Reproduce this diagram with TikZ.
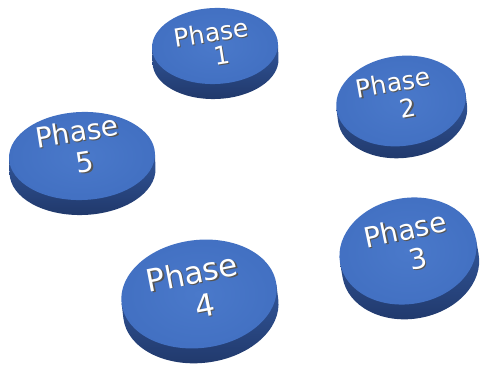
\documentclass[tikz,border=0pt]{standalone}
\usepackage{fontspec}
\setmainfont{DejaVu Sans}
\definecolor{topblue}{RGB}{66,112,194}
\definecolor{toplight}{RGB}{74,121,202}
\definecolor{sideup}{RGB}{50,86,154}
\definecolor{sidedown}{RGB}{32,56,106}
\definecolor{txtshadow}{RGB}{85,85,85}
\tikzset{
  disctop/.style={inner color=toplight, outer color=topblue},
  discside/.style={top color=sideup, bottom color=sidedown},
  phasetext/.style={text=white, inner sep=0pt, font=#1}
}
% #1 name, #2 cx, #3 cy, #4 rx, #5 ry, #6 thickness, #7 tilt
\newcommand\phasedisc[7]{%
  \begin{scope}[shift={(#2,#3)}, rotate=#7]
    \path[discside] (-#4,0) -- ++(0,#6)
      arc[start angle=180, end angle=360, x radius=#4pt, y radius=#5pt]
      -- ++(0,-#6) -- cycle;
    \path[disctop] (0,0) ellipse [x radius=#4pt, y radius=#5pt];
    \coordinate (#1) at (0,0);
  \end{scope}}
% white text with a small dark drop shadow behind it
\newcommand\shadowed[1]{%
  \makebox[0pt][l]{\kern1.2pt\raisebox{-1.2pt}{\color{txtshadow}#1}}#1}
% #1 name, #2 x, #3 y, #4 angle, #5 size, #6 text
\newcommand\phaselabel[6]{%
  \node[phasetext={\fontsize{#5}{#5}\selectfont}, rotate=#4] (#1) at (#2,#3) {\shadowed{#6}};}
\begin{document}
\begin{tikzpicture}[x=1pt, y=-1pt]
  \useasboundingbox (0,0) rectangle (483,366);
  % discs
  \phasedisc{d1}{215}{46}{63}{38}{15}{2}
  \phasedisc{d2}{401}{101}{65}{45}{12}{7}
  \phasedisc{d5}{82}{156}{73}{44}{15}{2}
  \phasedisc{d4}{199}{294}{78}{54}{15}{7}
  \phasedisc{d3}{408}{251}{69}{53}{15}{10}
  % labels
  \phaselabel{p1}{211}{33}{9}{25}{Phase}
  \phaselabel{n1}{222}{56}{9}{25}{1}
  \phaselabel{p2}{393}{83}{10}{25}{Phase}
  \phaselabel{n2}{408}{109}{10}{25}{2}
  \phaselabel{p5}{77}{132}{9}{28}{Phase}
  \phaselabel{n5}{85}{163}{9}{28}{5}
  \phaselabel{p4}{192}{273}{11}{31}{Phase}
  \phaselabel{n4}{205}{306}{11}{31}{4}
  \phaselabel{p3}{405}{230}{12}{28}{Phase}
  \phaselabel{n3}{418}{259}{12}{28}{3}
\end{tikzpicture}
\end{document}
